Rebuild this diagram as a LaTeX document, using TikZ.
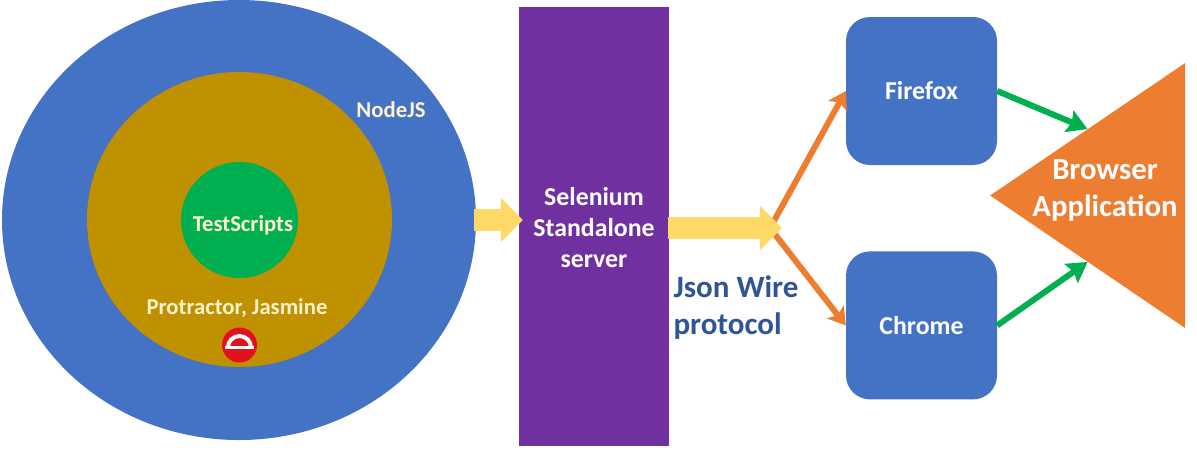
\documentclass[tikz,border=0pt]{standalone}
\usepackage{fontspec}
\usepackage{xcolor}
\setmainfont{Carlito}
\usetikzlibrary{arrows.meta, positioning, shapes.geometric}
\definecolor{nodeblue}{HTML}{4472C4}
\definecolor{gold}{HTML}{BF9000}
\definecolor{leaf}{HTML}{00B050}
\definecolor{server}{HTML}{7030A0}
\definecolor{tangerine}{HTML}{ED7D31}
\definecolor{sand}{HTML}{FFD966}
\definecolor{cream}{HTML}{FFF2CC}
\definecolor{ink}{HTML}{2F5597}
\definecolor{ruby}{HTML}{E3111B}

\begin{document}
\begin{tikzpicture}[
  x=1pt, y=-1pt,
  disc/.style={ellipse, fill=#1, inner sep=0pt},
  box/.style={rectangle, rounded corners=24pt, fill=nodeblue, inner sep=0pt,
              minimum width=151pt, minimum height=148pt,
              font=\fontsize{25.8}{30}\selectfont\bfseries, text=white},
  lbl/.style={font=\fontsize{22.7}{27}\selectfont\bfseries, text=#1, align=center},
  wide/.style={line width=22pt, color=sand, -{Triangle[length=22pt, width=43pt]}},
  fork/.style={line width=6pt, color=tangerine, -{Stealth[length=17pt, width=21pt, inset=4pt]}},
  feed/.style={line width=6pt, color=leaf, -{Stealth[length=20pt, width=23pt, inset=3pt]}}
]
\useasboundingbox (0,0) rectangle (1197,451);

% Nested runtime
\node[disc=nodeblue, minimum width=474pt, minimum height=440pt] (nodejs) at (239,220) {};
\node[disc=gold, minimum width=305pt, minimum height=295pt] (protractor) at (239.5,219.5) {};
\node[disc=leaf, minimum width=117pt, minimum height=116pt] (scripts) at (239.5,220) {};
\node[lbl=cream] (nodejslbl) at (391,110) {NodeJS};
\node[lbl=cream] (scriptslbl) at (243,225) {TestScripts};
\node[lbl=cream] (protractorlbl) at (237,308) {Protractor, Jasmine};

% Protractor icon
\node[circle, fill=ruby, minimum size=35pt, inner sep=0pt] (icon) at (239.5,345) {};
\draw[white, line width=4pt] (228,347.5) arc[start angle=180, end angle=0, radius=11.5pt];
\draw[white, line width=3pt] (225,347.5) -- (254,347.5);

% Selenium
\node[rectangle, fill=server, minimum width=150pt, minimum height=439pt, inner sep=0pt] (selenium) at (594,226.5) {};
\node[lbl=white, font=\fontsize{25.8}{31}\selectfont\bfseries] (seleniumlbl) at (594,228) {Selenium\\Standalone\\server};

% Browsers
\node[box] (firefox) at (921.5,91) {\raisebox{-1.5pt}{Firefox}};
\node[box, below=86pt of firefox] (chrome) {Chrome};

% Browser application
\node[isosceles triangle, isosceles triangle apex angle=68, isosceles triangle stretches,
      shape border rotate=180, fill=tangerine, inner sep=0pt,
      minimum width=265pt, minimum height=195pt] (browser) at (1115,195.5) {};
\node[lbl=white, font=\fontsize{30.7}{37}\selectfont\bfseries] (browserlbl) at (1105,190) {Browser\\Application};

% Protocol label
\node[lbl=ink, font=\fontsize{31}{37}\selectfont\bfseries, align=left, anchor=west] (protocol) at (670,308) {Json Wire\\protocol};

% Arrows
\coordinate (split) at (770,228);
\draw[fork] (split) -- (firefox.west);
\draw[fork] (split) -- (chrome.west);
\draw[wide, shorten <=-2pt, shorten >=-4pt] (nodejs.east) -- (nodejs.east -| selenium.west);
\draw[wide, shorten <=-1pt, shorten >=-12pt] (selenium.east |- split) -- (split);
\draw[feed] (firefox.east) -- (browser.right side);
\draw[feed] (chrome.east) -- (browser.left side);

\end{tikzpicture}
\end{document}
